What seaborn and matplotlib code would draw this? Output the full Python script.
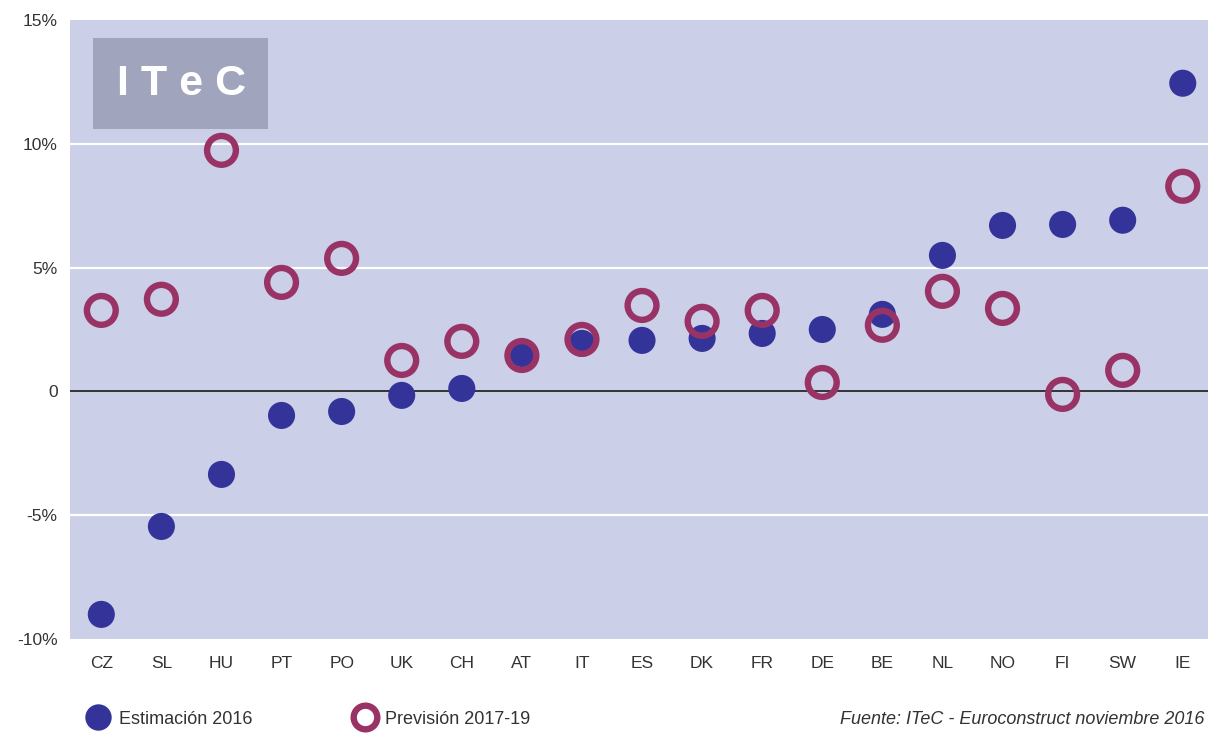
import numpy as np
import pandas as pd
import matplotlib
matplotlib.use("Agg")
import matplotlib.pyplot as plt
from matplotlib.lines import Line2D
from matplotlib.patches import Rectangle
import seaborn as sns

# ----------------------------
# Data
# ----------------------------
countries = ["CZ", "SL", "HU", "PT", "PO", "UK", "CH", "AT", "IT", "ES",
             "DK", "FR", "DE", "BE", "NL", "NO", "FI", "SW", "IE"]
estimacion_2016 = [-9.0, -5.45, -3.35, -0.97, -0.81, -0.16, 0.12, 1.53, 1.94, 2.06,
                   2.14, 2.34, 2.50, 3.11, 5.49, 6.70, 6.74, 6.91, 12.44]
prevision_2017_19 = [3.27, 3.72, 9.73, 4.40, 5.37, 1.25, 2.02, 1.45, 2.10, 3.47,
                     2.83, 3.27, 0.36, 2.67, 4.04, 3.35, -0.12, 0.85, 8.28]
y_ticks = [-10, -5, 0, 5, 10, 15]
y_labels = ["-10%", "-5%", "0", "5%", "10%", "15%"]

blue = "#333399"
red = "#993366"
bg = "#CBCFE8"

df = pd.DataFrame({"pais": countries, "est": estimacion_2016, "prev": prevision_2017_19})
df["x"] = np.arange(len(df))

sns.set_style("white")
plt.rcParams["font.family"] = ["Liberation Sans", "DejaVu Sans"]

fig = plt.figure(figsize=(12.08, 7.33), dpi=100)
ax = fig.add_axes([0.058, 0.128, 0.942, 0.845])
ax.set_facecolor(bg)

for yv in [-5, 5, 10]:
    ax.axhline(yv, color="white", lw=1.6, zorder=1)
ax.axhline(0, color="#333333", lw=1.4, zorder=2)

sns.scatterplot(data=df, x="x", y="est", ax=ax, s=380, color=blue,
                edgecolor="none", zorder=3, legend=False)
sns.scatterplot(data=df, x="x", y="prev", ax=ax, s=430, facecolor="none",
                edgecolor=red, linewidth=4.6, zorder=4, legend=False)

ax.set_xlim(-0.52, 18.42)
ax.set_ylim(-10, 15)
ax.set_xticks(df["x"])
ax.set_xticklabels(countries)
ax.set_yticks(y_ticks)
ax.set_yticklabels(y_labels)
ax.tick_params(axis="both", length=0, labelsize=12.5, labelcolor="#333333")
ax.tick_params(axis="x", pad=12)
ax.tick_params(axis="y", pad=9)
ax.set_xlabel("")
ax.set_ylabel("")
for sp in ax.spines.values():
    sp.set_visible(False)

# ITeC logo box
ax.add_patch(Rectangle((0.020, 0.823), 0.154, 0.148, transform=ax.transAxes,
                       facecolor="#A0A4BC", edgecolor="none", zorder=5))
ax.text(0.098, 0.897, "I T e C", transform=ax.transAxes, ha="center", va="center",
        color="white", fontsize=31, fontweight="bold", zorder=6)

# Legend
handles = [
    Line2D([], [], marker="o", ls="none", markersize=19, markerfacecolor=blue,
           markeredgecolor="none"),
    Line2D([], [], marker="o", ls="none", markersize=17, markerfacecolor="none",
           markeredgecolor=red, markeredgewidth=4.6),
]
fig.legend(handles, ["Estimación 2016", "Previsión 2017-19"], loc="center left",
           bbox_to_anchor=(0.059, 0.019), ncol=2, frameon=False, fontsize=13,
           handletextpad=0.55, columnspacing=5.6, handlelength=1.2,
           labelcolor="#333333")

fig.text(0.997, 0.018, "Fuente: ITeC - Euroconstruct noviembre 2016", ha="right",
         va="center", fontsize=13, style="italic", color="#333333")

fig.savefig("out.png", dpi=100, facecolor="white")
